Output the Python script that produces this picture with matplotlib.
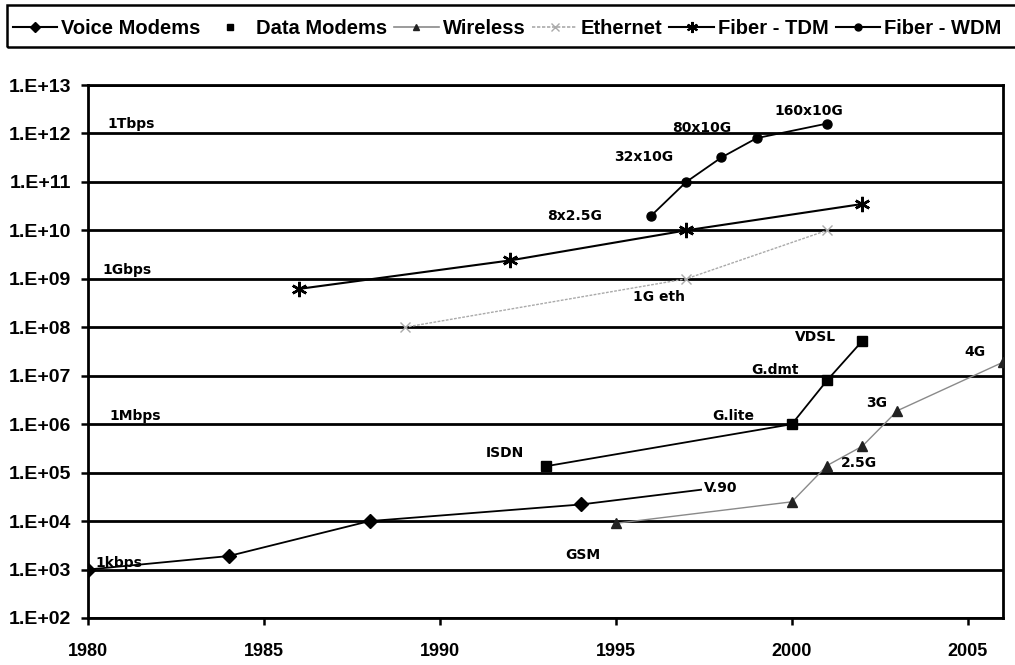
import matplotlib
matplotlib.use("Agg")
import matplotlib.pyplot as plt
from matplotlib.ticker import FixedLocator, FixedFormatter, NullLocator
from matplotlib.lines import Line2D
from matplotlib.patches import Rectangle

# ---- data ----
voice_years = [1980, 1984, 1988, 1994, 1998]
voice_vals = [1e3, 1.9e3, 1e4, 2.2e4, 5e4]

data_years = [1993, 2000, 2001, 2002]
data_vals = [1.35e5, 1e6, 8e6, 5.2e7]

wireless_years = [1995, 2000, 2001, 2002, 2003, 2006]
wireless_vals = [9e3, 2.5e4, 1.4e5, 3.5e5, 1.9e6, 1.9e7]

eth_years = [1989, 1997, 2001]
eth_vals = [1e8, 1e9, 1e10]

tdm_years = [1986, 1992, 1997, 2002]
tdm_vals = [6.2e8, 2.4e9, 1e10, 3.5e10]

wdm_years = [1996, 1997, 1998, 1999, 2001]
wdm_vals = [2e10, 1e11, 3.2e11, 8e11, 1.6e12]

series_names = ["Voice Modems", "Data Modems", "Wireless", "Ethernet",
                "Fiber - TDM", "Fiber - WDM"]

ytick_vals = [1e2, 1e3, 1e4, 1e5, 1e6, 1e7, 1e8, 1e9, 1e10, 1e11, 1e12, 1e13]
ytick_labels = ["1.E+02", "1.E+03", "1.E+04", "1.E+05", "1.E+06", "1.E+07",
                "1.E+08", "1.E+09", "1.E+10", "1.E+11", "1.E+12", "1.E+13"]
xtick_vals = [1980, 1985, 1990, 1995, 2000, 2005]
xtick_labels = ["1980", "1985", "1990", "1995", "2000", "2005"]

# annotations: (text, x_year, y_value)
annotations = [
    ("1Tbps", 1980.55, 1.6e12),
    ("1Gbps", 1980.4, 1.5e9),
    ("1Mbps", 1980.6, 1.5e6),
    ("1kbps", 1980.2, 1.35e3),
    ("ISDN", 1991.3, 2.5e5),
    ("V.90", 1997.5, 4.8e4),
    ("GSM", 1993.55, 2.0e3),
    ("G.lite", 1997.75, 1.5e6),
    ("G.dmt", 1998.85, 1.3e7),
    ("VDSL", 2000.1, 6.3e7),
    ("2.5G", 2001.4, 1.6e5),
    ("3G", 2002.1, 2.7e6),
    ("4G", 2004.9, 3.1e7),
    ("8x2.5G", 1993.05, 2e10),
    ("32x10G", 1994.95, 3.2e11),
    ("80x10G", 1996.6, 1.3e12),
    ("160x10G", 1999.5, 2.9e12),
    ("1G eth", 1995.5, 4.3e8),
]

W, H = 1015, 665
fig = plt.figure(figsize=(W / 100, H / 100), dpi=100)
ax = fig.add_axes([88 / W, 1 - 618 / H, (1003 - 88) / W, (618 - 85) / H])

asterisk = (6, 2, 0)

ax.plot(voice_years, voice_vals, color="black", lw=1.3, marker="D", ms=7,
        zorder=4)
ax.plot(data_years, data_vals, color="black", lw=1.3, marker="s", ms=7,
        zorder=4)
ax.plot(wireless_years, wireless_vals, color="#8a8a8a", lw=1.0, marker="^", ms=7,
        mfc="#222222", mec="#222222", zorder=4)
ax.plot(eth_years, eth_vals, color="#aaaaaa", lw=1.0, ls=(0, (2, 1)), marker="x",
        ms=7, mec="#aaaaaa", zorder=4)
ax.plot(tdm_years, tdm_vals, color="black", lw=1.5, marker=asterisk, ms=11,
        mew=1.8, zorder=4)
ax.plot(wdm_years, wdm_vals, color="black", lw=1.3, marker="o", ms=6.5,
        zorder=4)

ax.set_yscale("log")
ax.set_ylim(1e2, 1e13)
ax.set_xlim(1980, 2006)
ax.yaxis.set_major_locator(FixedLocator(ytick_vals))
ax.yaxis.set_major_formatter(FixedFormatter(ytick_labels))
ax.yaxis.set_minor_locator(NullLocator())
ax.xaxis.set_major_locator(FixedLocator(xtick_vals))
ax.xaxis.set_major_formatter(FixedFormatter(xtick_labels))

ax.grid(axis="y", color="black", lw=2.0, zorder=1)
ax.grid(axis="x", visible=False)
for s in ["left", "right", "bottom", "top"]:
    ax.spines[s].set_color("black")
    ax.spines[s].set_linewidth(2.0)

ax.tick_params(axis="y", direction="out", length=5, width=1.8,
               labelsize=14, pad=7)
ax.tick_params(axis="x", direction="out", length=5, width=1.8,
               labelsize=13, pad=13)
for lab in ax.get_yticklabels() + ax.get_xticklabels():
    lab.set_fontfamily("Liberation Sans")
    lab.set_fontweight("bold")

for txt, xv, yv in annotations:
    kw = {}
    if txt == "V.90":
        kw["bbox"] = dict(facecolor="white", edgecolor="none", pad=1.0)
    ax.text(xv, yv, txt, fontsize=10, fontweight="bold",
            fontfamily="DejaVu Sans", ha="left", va="center", zorder=5, **kw)

# legend
handles = [
    Line2D([], [], color="black", lw=1.5, marker="D", ms=5),
    Line2D([], [], color="none", lw=0, marker="s", ms=5, mfc="black", mec="black"),
    Line2D([], [], color="#8a8a8a", lw=1.2, marker="^", ms=5, mfc="#222222",
           mec="#222222"),
    Line2D([], [], color="#aaaaaa", lw=1.2, ls=(0, (2, 1)), marker="x", ms=6,
           mec="#aaaaaa"),
    Line2D([], [], color="black", lw=1.5, marker=asterisk, ms=8, mew=1.5),
    Line2D([], [], color="black", lw=1.5, marker="o", ms=5),
]
fig.patches.append(Rectangle((7 / W, 1 - 47 / H), 1.1, 42 / H,
                             transform=fig.transFigure, facecolor="none",
                             edgecolor="black", lw=1.8))
leg = fig.legend(handles, series_names, loc="center left", ncol=6,
                 bbox_to_anchor=(13 / W, 1 - 29 / H),
                 frameon=False,
                 prop={"family": "Liberation Sans", "weight": "bold", "size": 14.5},
                 handlelength=2.2, handletextpad=0.2, columnspacing=0.35,
                 borderpad=0, borderaxespad=0)

fig.savefig("out.png", dpi=100)
